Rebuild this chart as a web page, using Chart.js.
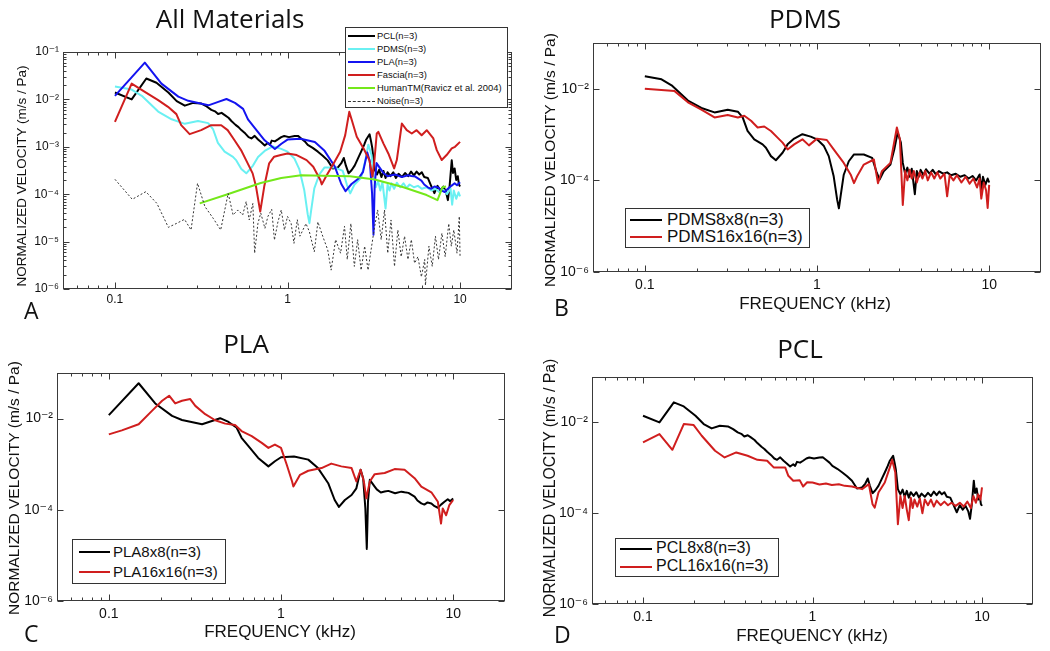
<!DOCTYPE html>
<html><head><meta charset="utf-8">
<script src="https://cdn.jsdelivr.net/npm/chart.js@4.4.1/dist/chart.umd.min.js"></script>
<style>
body{margin:0;width:1050px;height:651px;position:relative;overflow:hidden;background:#fff;font-family:'Liberation Sans',Arial,sans-serif;color:#111}
canvas{position:absolute}
.t{position:absolute;white-space:nowrap;transform:translate(-50%,-50%);line-height:1}
.ttl{font-family:'Open Sans',sans-serif;font-size:26px;color:#111}
.let{position:absolute;font-family:'Open Sans',sans-serif;font-size:23px;line-height:1;color:#111}
.yl{transform:translate(-50%,-50%) rotate(-90deg)}
.leg{position:absolute;background:#fff;border:1px solid #333;box-sizing:border-box}
.lt{position:absolute;white-space:nowrap;line-height:1;color:#111}
.ls{position:absolute;height:0}
</style></head>
<body>
<canvas id="cA"></canvas><canvas id="cB"></canvas><canvas id="cC"></canvas><canvas id="cD"></canvas>
<script>
// ---------- data: [frequency kHz, normalized velocity (m/s/Pa)] ----------
const xTickVals = [0.1, 1, 10];
const xMinorVals = [0.06,0.07,0.08,0.09,0.2,0.3,0.4,0.5,0.6,0.7,0.8,0.9,2,3,4,5,6,7,8,9];
const yTicksA = [1e-6,1e-5,1e-4,1e-3,1e-2,1e-1];
const yTicksBCD = [1e-6,1e-4,1e-2];

const pcl8 = [[0.1,0.014],[0.125,0.01],[0.152,0.0276],[0.174,0.0225],[0.204,0.014],[0.228,0.0092],[0.254,0.00738],[0.284,0.00844],[0.317,0.00816],[0.34,0.0071],[0.362,0.00602],[0.38,0.0056],[0.396,0.00491],[0.415,0.0052],[0.433,0.00467],[0.455,0.0041],[0.473,0.0035],[0.5,0.0029],[0.52,0.0026],[0.54,0.00225],[0.57,0.0019],[0.595,0.0016],[0.618,0.0015],[0.645,0.0017],[0.675,0.00143],[0.705,0.00125],[0.738,0.00107],[0.77,0.0012],[0.79,0.0011],[0.81,0.00135],[0.845,0.0013],[0.88,0.00143],[0.92,0.0016],[0.957,0.00169],[1.02,0.0016],[1.1,0.00169],[1.15,0.0017],[1.2,0.0015],[1.26,0.0013],[1.31,0.0011],[1.4,0.00095],[1.5,0.000789],[1.6,0.00065],[1.71,0.000517],[1.83,0.00035],[1.96,0.000368],[2.05,0.00045],[2.12,0.000582],[2.18,0.0004],[2.26,0.000276],[2.35,0.00032],[2.45,0.000401],[2.55,0.00055],[2.67,0.000789],[2.78,0.0011],[2.86,0.00143],[2.99,0.00184],[3.05,0.0013],[3.1,0.000935],[3.19,0.000339],[3.3,0.00026],[3.4,0.00033],[3.5,0.00023],[3.6,0.00031],[3.7,0.00022],[3.8,0.00029],[3.95,0.00024],[4.1,0.00029],[4.25,0.00022],[4.4,0.00027],[4.6,0.00023],[4.8,0.00028],[5.0,0.00024],[5.2,0.0003],[5.4,0.00025],[5.6,0.0003],[5.8,0.00026],[6.0,0.00029],[6.2,0.00023],[6.5,0.00022],[6.8,0.00015],[7.1,0.000105],[7.4,0.00015],[7.7,0.00012],[8.0,0.000145],[8.3,0.00011],[8.5,0.000075],[8.7,0.00015],[8.95,0.00052],[9.1,0.00028],[9.3,0.00035],[9.5,0.0002],[9.7,0.00024],[9.85,0.00016],[10,0.000145]];

const pcl16 = [[0.1,0.00362],[0.125,0.00553],[0.149,0.00249],[0.174,0.0092],[0.199,0.00873],[0.222,0.00508],[0.266,0.00237],[0.303,0.00169],[0.355,0.00218],[0.414,0.00184],[0.473,0.0015],[0.54,0.00143],[0.59,0.00102],[0.69,0.00102],[0.72,0.000667],[0.77,0.000517],[0.84,0.000535],[0.88,0.000387],[0.93,0.00048],[1.0,0.000474],[1.1,0.00043],[1.2,0.00045],[1.3,0.00042],[1.43,0.000436],[1.55,0.0004],[1.71,0.000387],[1.96,0.000339],[2.15,0.000436],[2.26,0.000158],[2.33,0.000133],[2.45,0.000286],[2.67,0.000474],[2.86,0.00102],[2.95,0.0015],[3.08,0.000789],[3.19,0.000057],[3.3,0.000241],[3.4,0.00013],[3.5,0.00024],[3.6,0.00012],[3.7,0.00007],[3.8,0.00022],[3.9,0.00013],[4.0,0.0002],[4.15,0.00014],[4.3,0.00021],[4.45,0.0001],[4.6,0.0002],[4.8,0.00015],[5.0,0.0002],[5.2,0.00014],[5.4,0.00019],[5.7,0.00015],[6.0,0.00018],[6.3,0.00015],[6.6,0.00017],[7.0,0.000145],[7.4,0.00017],[7.8,0.00014],[8.2,0.00018],[8.6,0.00013],[8.9,0.00024],[9.2,0.00017],[9.5,0.00026],[9.8,0.0002],[10,0.00037]];

const pdms8 = [[0.1,0.0187],[0.125,0.0161],[0.143,0.0119],[0.178,0.00553],[0.213,0.00381],[0.254,0.00305],[0.303,0.0035],[0.347,0.00316],[0.37,0.00237],[0.395,0.00121],[0.432,0.000789],[0.483,0.000612],[0.505,0.000517],[0.54,0.000339],[0.577,0.000276],[0.631,0.000401],[0.675,0.000612],[0.737,0.000817],[0.823,0.00102],[0.919,0.000903],[1.0,0.000789],[1.097,0.000562],[1.17,0.000339],[1.25,0.000123],[1.31,0.0000375],[1.34,0.0000245],[1.37,0.0000444],[1.43,0.000133],[1.53,0.000262],[1.64,0.000368],[1.87,0.000368],[2.09,0.000311],[2.21,0.000158],[2.31,0.000104],[2.44,0.000158],[2.67,0.000222],[2.81,0.000474],[2.94,0.00111],[3.07,0.000667],[3.15,0.000241],[3.25,0.00014],[3.35,0.00019],[3.45,0.00012],[3.55,0.00018],[3.7,0.00005],[3.8,0.00016],[3.9,0.00012],[4.0,0.00017],[4.15,0.00013],[4.3,0.000175],[4.5,0.00014],[4.7,0.00017],[4.9,0.000135],[5.1,0.00016],[5.4,0.00014],[5.7,0.00015],[6.0,0.00013],[6.4,0.00014],[6.8,0.00012],[7.2,0.00013],[7.6,0.00011],[8.0,0.000125],[8.4,0.0001],[8.8,0.000135],[9.0,0.00006],[9.2,0.00012],[9.5,0.00008],[9.8,0.00011],[10,0.00009]];

const pdms16 = [[0.1,0.01],[0.149,0.0089],[0.178,0.00508],[0.213,0.0035],[0.254,0.00237],[0.303,0.00267],[0.347,0.00237],[0.378,0.00258],[0.414,0.002],[0.452,0.00143],[0.494,0.0015],[0.54,0.0012],[0.59,0.000859],[0.631,0.000667],[0.675,0.000474],[0.737,0.000612],[0.823,0.000789],[0.898,0.000582],[1.0,0.000817],[1.14,0.000762],[1.25,0.000474],[1.43,0.000241],[1.57,0.000133],[1.64,0.000087],[1.71,0.000123],[1.87,0.000222],[2.14,0.000286],[2.26,0.000087],[2.38,0.000158],[2.67,0.000241],[2.91,0.00143],[3.03,0.000789],[3.15,0.000029],[3.25,0.00016],[3.35,0.0001],[3.45,0.00017],[3.55,0.00011],[3.65,0.00016],[3.8,0.00009],[3.95,0.00015],[4.1,0.00011],[4.25,0.00016],[4.4,0.0001],[4.6,0.00015],[4.8,0.00011],[5.0,0.00015],[5.2,0.00011],[5.5,0.00014],[5.7,0.000045],[5.9,0.00013],[6.2,0.0001],[6.5,0.00013],[6.9,0.00009],[7.3,0.00012],[7.7,0.000085],[8.1,0.00011],[8.5,0.00007],[8.8,0.00011],[9.0,0.00004],[9.3,0.00009],[9.6,0.00006],[9.8,0.000025],[10,0.00008]];

const pla8 = [[0.1,0.0119],[0.149,0.0596],[0.186,0.0215],[0.233,0.01146],[0.266,0.00934],[0.348,0.0075],[0.397,0.00888],[0.443,0.0102],[0.496,0.00844],[0.553,0.0063],[0.59,0.0038],[0.647,0.00248],[0.737,0.00137],[0.845,0.000896],[0.922,0.00116],[1.0,0.00142],[1.19,0.00148],[1.44,0.00126],[1.64,0.000822],[1.88,0.000383],[2.05,0.000164],[2.17,0.000116],[2.35,0.000164],[2.57,0.000211],[2.74,0.000296],[2.9,0.000755],[3.0,0.000494],[3.09,0.000107],[3.15,0.0000139],[3.2,0.00015],[3.28,0.000454],[3.5,0.000323],[3.6,0.00028],[3.8,0.00024],[4.0,0.000251],[4.2,0.00026],[4.6,0.00023],[5.0,0.00025],[5.22,0.000242],[5.5,0.000235],[5.97,0.000194],[6.2,0.00016],[6.53,0.000138],[6.8,0.00013],[7.1,0.000145],[7.47,0.000138],[7.8,0.00012],[8.15,0.000111],[8.5,0.00013],[8.9,0.00015],[9.3,0.00017],[9.6,0.000155],[10,0.000178]];

const pla16 = [[0.1,0.0045],[0.119,0.00552],[0.149,0.0075],[0.178,0.0148],[0.204,0.0246],[0.224,0.0318],[0.243,0.0215],[0.266,0.0246],[0.297,0.0268],[0.318,0.019],[0.363,0.0125],[0.415,0.0092],[0.474,0.00776],[0.541,0.00724],[0.59,0.00533],[0.676,0.00413],[0.773,0.00294],[0.845,0.00228],[0.922,0.0027],[1.0,0.00228],[1.08,0.000975],[1.16,0.000417],[1.18,0.000323],[1.29,0.000586],[1.44,0.000718],[1.72,0.000822],[1.96,0.00103],[2.24,0.000896],[2.57,0.000822],[2.74,0.000417],[2.9,0.000755],[3.03,0.000417],[3.13,0.000178],[3.28,0.000417],[3.5,0.000605],[4.0,0.00064],[4.57,0.000781],[5.22,0.000755],[5.97,0.000494],[6.53,0.000323],[7.47,0.000242],[8.15,0.00015],[8.5,0.0000498],[8.7,0.000107],[9.1,0.000076],[9.5,0.000127],[10,0.000164]];

const fascia = [[0.1,0.00337],[0.125,0.0216],[0.149,0.0144],[0.178,0.00962],[0.203,0.00697],[0.227,0.00489],[0.242,0.00286],[0.271,0.00185],[0.316,0.00225],[0.361,0.00286],[0.413,0.00286],[0.45,0.00225],[0.492,0.00139],[0.538,0.000853],[0.588,0.000448],[0.628,0.000275],[0.657,0.000145],[0.695,0.000043],[0.733,0.000145],[0.783,0.000448],[0.837,0.000618],[0.914,0.00067],[1.0,0.00072],[1.13,0.000668],[1.29,0.000524],[1.41,0.000379],[1.55,0.000199],[1.58,0.000161],[1.69,0.000254],[1.85,0.000446],[2.02,0.000785],[2.16,0.00176],[2.28,0.00546],[2.36,0.00364],[2.52,0.00163],[2.76,0.000923],[2.98,0.000525],[3.11,0.000233],[3.19,0.000525],[3.29,0.00191],[3.36,0.00207],[3.6,0.00117],[3.84,0.000724],[4.15,0.00035],[4.3,0.000525],[4.6,0.0031],[4.91,0.00224],[5.25,0.00191],[5.6,0.00224],[5.99,0.00176],[6.41,0.00224],[7.0,0.0015],[7.33,0.00085],[7.83,0.000525],[8.36,0.00067],[8.95,0.000923],[9.35,0.001],[10,0.00127]];

const humanTM = [[0.31,0.000064],[0.45,0.0001],[0.7,0.000172],[0.92,0.00022],[1.2,0.00025],[1.6,0.000245],[2.3,0.00024],[3.2,0.000205],[4.7,0.00014],[6.4,0.000096],[7.4,0.000075],[7.9,0.00014],[8.3,0.000145]];

const noise = [[0.1,0.000206],[0.126,0.000078],[0.151,0.000113],[0.175,0.000064],[0.204,0.00002],[0.228,0.0000243],[0.253,0.0000295],[0.276,0.0000176],[0.301,0.00017],[0.332,0.000055],[0.371,0.000031],[0.41,0.0000176],[0.453,0.000104],[0.484,0.0000365],[0.516,0.0000465],[0.55,0.0000365],[0.576,0.00007],[0.6,0.0000286],[0.63,0.000064],[0.645,0.0000057],[0.674,0.0000243],[0.7,0.00004],[0.74,0.000019],[0.77,0.000034],[0.81,0.000048],[0.84,0.0000108],[0.88,0.000026],[0.92,0.0000465],[0.96,0.0000176],[1.0,0.000034],[1.05,0.000024],[1.09,0.0000092],[1.14,0.000029],[1.18,0.000013],[1.28,0.000024],[1.34,0.000016],[1.43,0.0000061],[1.5,0.000026],[1.6,0.000013],[1.71,0.0000067],[1.79,0.0000025],[1.9,0.000011],[2.03,0.0000057],[2.14,0.000021],[2.22,0.0000042],[2.33,0.000024],[2.44,0.000003],[2.55,0.000011],[2.67,0.0000025],[2.8,0.000008],[2.93,0.0000025],[3.05,0.0000067],[3.2,0.000021],[3.33,0.0000465],[3.49,0.000011],[3.65,0.0000465],[3.81,0.0000057],[3.98,0.0000286],[4.17,0.000003],[4.36,0.0000176],[4.56,0.0000048],[4.77,0.000013],[4.99,0.0000042],[5.22,0.000011],[5.45,0.0000035],[5.7,0.0000048],[5.97,0.0000018],[6.24,0.0000042],[6.3,0.0000012],[6.6,0.000008],[6.9,0.000003],[7.2,0.000013],[7.5,0.0000042],[7.85,0.000015],[8.2,0.0000048],[8.6,0.000024],[8.9,0.000008],[9.2,0.0000176],[9.6,0.0000057],[9.9,0.000034],[10,0.0000048]];

// ---------- helpers ----------
const pts = a => a.map(p => ({x: p[0], y: p[1]}));
const supMap = {'-':'\u207B','0':'\u2070','1':'\u00B9','2':'\u00B2','3':'\u00B3','4':'\u2074','5':'\u2075','6':'\u2076','7':'\u2077','8':'\u2078','9':'\u2079'};
const expLabel = v => '10' + String(Math.round(Math.log10(v))).split('').map(c => supMap[c]).join('');

const boxTicks = {
  id: 'boxTicks',
  afterDatasetsDraw(chart, args, opts) {
    const {ctx, chartArea: a, scales: {x, y}} = chart;
    const L = Math.round(a.left) + 0.5, R = Math.round(a.right) - 0.5, T = Math.round(a.top) + 0.5, B = Math.round(a.bottom) - 0.5;
    ctx.save();
    ctx.strokeStyle = '#3a3a3a'; ctx.lineWidth = 1;
    ctx.strokeRect(L, T, R - L, B - T);
    const seg = (x1, y1, x2, y2) => { ctx.beginPath(); ctx.moveTo(x1, y1); ctx.lineTo(x2, y2); ctx.stroke(); };
    const xt = (v, len) => { const p = Math.round(x.getPixelForValue(v)) + 0.5; seg(p, B, p, B - len); seg(p, T, p, T + len); };
    const yt = (v, len) => { const p = Math.round(y.getPixelForValue(v)) + 0.5; seg(L, p, L + len, p); seg(R, p, R - len, p); };
    xTickVals.forEach(v => xt(v, 6));
    xMinorVals.forEach(v => xt(v, 3));
    opts.yMajor.forEach(v => yt(v, 6));
    if (opts.yMinor) {
      for (let e = -6; e < -1; e++) for (let m = 2; m <= 9; m++) yt(m * Math.pow(10, e), 3);
    }
    ctx.restore();
  }
};

function ds(data, color, width, order, dash) {
  return {data: pts(data), borderColor: color, borderWidth: width, order: order,
          borderDash: dash || [], pointRadius: 0, fill: false, tension: 0};
}

function makeChart(id, g, datasets, yMajor, yMinor, tfont) {
  const c = document.getElementById(id);
  c.width = g.w; c.height = g.h;
  c.style.left = g.l + 'px'; c.style.top = g.t + 'px';
  c.style.width = g.w + 'px'; c.style.height = g.h + 'px';
  return new Chart(c, {
    type: 'line',
    data: {datasets},
    options: {
      responsive: false, animation: false, devicePixelRatio: 1,
      layout: {padding: {top: g.pt, right: g.pr, left: 0, bottom: 0}},
      plugins: {legend: {display: false}, tooltip: {enabled: false}, boxTicks: {yMajor, yMinor}},
      elements: {point: {radius: 0}, line: {tension: 0, borderJoinStyle: 'round', borderCapStyle: 'butt'}},
      scales: {
        x: {type: 'logarithmic', min: 0.05, max: 20, bounds: 'data',
            grid: {display: false, drawTicks: false}, border: {display: false},
            afterBuildTicks: s => { s.ticks = xTickVals.map(v => ({value: v})); },
            afterFit: s => { s.height = g.xh; },
            ticks: {callback: v => String(v), font: {family: "'Liberation Sans', Arial", size: tfont}, color: '#111', padding: g.xpad, maxRotation: 0, autoSkip: false}},
        y: {type: 'logarithmic', min: 1e-6, max: 1e-1, bounds: 'data',
            grid: {display: false, drawTicks: false}, border: {display: false},
            afterBuildTicks: s => { s.ticks = yMajor.map(v => ({value: v})); },
            afterFit: s => { s.width = g.yw; },
            ticks: {callback: v => expLabel(v), font: {family: "'Liberation Sans', 'DejaVu Sans', Arial", size: tfont}, color: '#111', padding: 4, autoSkip: false}}
      }
    },
    plugins: [boxTicks]
  });
}

const BLACK = '#000000', CYAN = '#6af0f2', BLUE = '#1414f0', RED = '#d01e1e', GREEN = '#74e81a', NOISE = '#333333';

// Panel A
makeChart('cA', {l: 0, t: 0, w: 525, h: 320, pt: 52, pr: 13, yw: 63, xh: 31, xpad: 3}, [
  ds(pcl8, BLACK, 2, 6), ds(pdms8, CYAN, 2, 5), ds(pla8, BLUE, 2, 4), ds(fascia, RED, 2, 3),
  ds(humanTM, GREEN, 2, 2), ds(noise, NOISE, 1, 1, [2, 2])
], yTicksA, true, 12);
// Panel B
makeChart('cB', {l: 525, t: 0, w: 525, h: 320, pt: 43, pr: 9, yw: 68, xh: 48, xpad: 5}, [
  ds(pdms8, BLACK, 2, 2), ds(pdms16, RED, 2, 1)
], yTicksBCD, false, 14);
// Panel C
makeChart('cC', {l: 0, t: 320, w: 525, h: 331, pt: 53, pr: 20, yw: 57, xh: 50, xpad: 5}, [
  ds(pla8, BLACK, 2, 2), ds(pla16, RED, 2, 1)
], yTicksBCD, false, 14);
// Panel D
makeChart('cD', {l: 525, t: 320, w: 525, h: 331, pt: 57, pr: 17, yw: 67, xh: 47, xpad: 5}, [
  ds(pcl8, BLACK, 2, 2), ds(pcl16, RED, 2, 1)
], yTicksBCD, false, 14);

// ---------- text & legends ----------
function txt(cls, s, x, y, style) {
  const d = document.createElement('div');
  d.className = cls; d.textContent = s;
  d.style.left = x + 'px'; d.style.top = y + 'px';
  if (style) d.style.cssText += style;
  document.body.appendChild(d);
  return d;
}
txt('t ttl', 'All Materials', 230, 18);
txt('t ttl', 'PDMS', 805, 18);
txt('t ttl', 'PLA', 246, 343);
txt('t ttl', 'PCL', 800, 348);
txt('let', 'A', 24, 299);
txt('let', 'B', 554, 296);
txt('let', 'C', 24, 622);
txt('let', 'D', 554, 623);

const YLAB = 'NORMALIZED VELOCITY (m/s / Pa)', XLAB = 'FREQUENCY (kHz)';
txt('t yl', YLAB, 22, 176, 'font-size:13.5px');
txt('t yl', YLAB, 550, 160, 'font-size:15.5px');
txt('t yl', YLAB, 14, 488, 'font-size:15.5px');
txt('t yl', YLAB, 550, 488, 'font-size:15.8px');
txt('t', XLAB, 815, 303, 'font-size:17px');
txt('t', XLAB, 280, 631, 'font-size:17px');
txt('t', XLAB, 812, 635, 'font-size:17px');

function legend(box, rows, rowY, x1, x2, tx, fs) {
  const b = document.createElement('div');
  b.className = 'leg';
  Object.assign(b.style, {left: box[0] + 'px', top: box[1] + 'px', width: (box[2] - box[0]) + 'px', height: (box[3] - box[1]) + 'px'});
  document.body.appendChild(b);
  rows.forEach((r, i) => {
    const s = document.createElement('div');
    s.className = 'ls';
    const w = r[2] ? 1 : 2;
    Object.assign(s.style, {left: x1 + 'px', top: (rowY[i] - w / 2) + 'px', width: (x2 - x1) + 'px',
      borderTop: w + 'px ' + (r[2] ? 'dashed ' : 'solid ') + r[1]});
    document.body.appendChild(s);
    const t = document.createElement('div');
    t.className = 'lt'; t.textContent = r[0];
    Object.assign(t.style, {left: tx + 'px', top: (rowY[i] - fs * 0.55) + 'px', fontSize: fs + 'px'});
    document.body.appendChild(t);
  });
}
legend([345, 27, 508, 108], [['PCL(n=3)', BLACK], ['PDMS(n=3)', CYAN], ['PLA(n=3)', BLUE], ['Fascia(n=3)', RED],
  ['HumanTM(Ravicz et al. 2004)', GREEN], ['Noise(n=3)', NOISE, true]],
  [36, 49, 62, 75, 88, 101], 348, 375, 377, 9.4);
legend([625, 208, 810, 248], [['PDMS8x8(n=3)', BLACK], ['PDMS16x16(n=3)', RED]], [220, 237], 630, 662, 667, 17);
legend([72, 539, 226, 584], [['PLA8x8(n=3)', BLACK], ['PLA16x16(n=3)', RED]], [552, 572], 79, 110, 113, 15);
legend([615, 538, 779, 577], [['PCL8x8(n=3)', BLACK], ['PCL16x16(n=3)', RED]], [549, 567], 620, 652, 656, 16);
</script>
</body></html>
